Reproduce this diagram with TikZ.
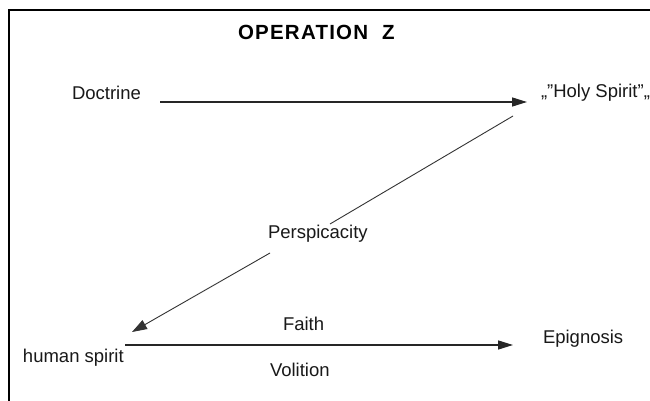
\documentclass[tikz,border=0pt]{standalone}
\usepackage{fontspec}
\setmainfont{Liberation Sans}
\usetikzlibrary{arrows.meta}
\begin{document}
\begin{tikzpicture}[x=1pt,y=-1pt,
  lbl/.style={inner sep=0pt,outer sep=0pt,anchor=base west,font=\fontsize{18.5}{20}\selectfont,text=black!90},
  ttl/.style={inner sep=0pt,outer sep=0pt,anchor=base west,font=\bfseries\fontsize{20.5}{22}\selectfont\addfontfeature{LetterSpace=6}},
  hline/.style={line width=1.4pt,draw=black!85,-{Triangle[length=15pt,width=9pt]}},
  dline/.style={line width=0.9pt,draw=black!80},
  darr/.style={dline,-{Triangle[length=15pt,width=10pt]}}]
\useasboundingbox (0,0) rectangle (650,401);
\fill[white] (0,0) rectangle (650,401);
\draw[line width=1.3pt] (9,401) |- (650,10);
\node[ttl] (title) at (238,40) {OPERATION\hspace{14pt}Z};
\node[lbl] (doc) at (72,100) {Doctrine};
\node[lbl] (holy) at (541,98) {„"Holy Spirit"„};
\node[lbl] (persp) at (268,238) {Perspicacity};
\node[lbl] (human) at (23,362) {human spirit};
\node[lbl] (faith) at (283,330) {Faith};
\node[lbl] (vol) at (270,376) {Volition};
\node[lbl] (epi) at (543,343) {Epignosis};
\draw[hline] ([shift={(88,2)}]doc.base west) -- ([shift={(-14,4)}]holy.base west);
\draw[dline] ([shift={(-28,18)}]holy.base west) -- ([shift={(62,-14)}]persp.base west);
\draw[darr] ([shift={(2,15)}]persp.base west) -- ([shift={(109,-30)}]human.base west);
\draw[hline] ([shift={(102,-17)}]human.base west) -- ([shift={(-30,2)}]epi.base west);
\end{tikzpicture}
\end{document}
